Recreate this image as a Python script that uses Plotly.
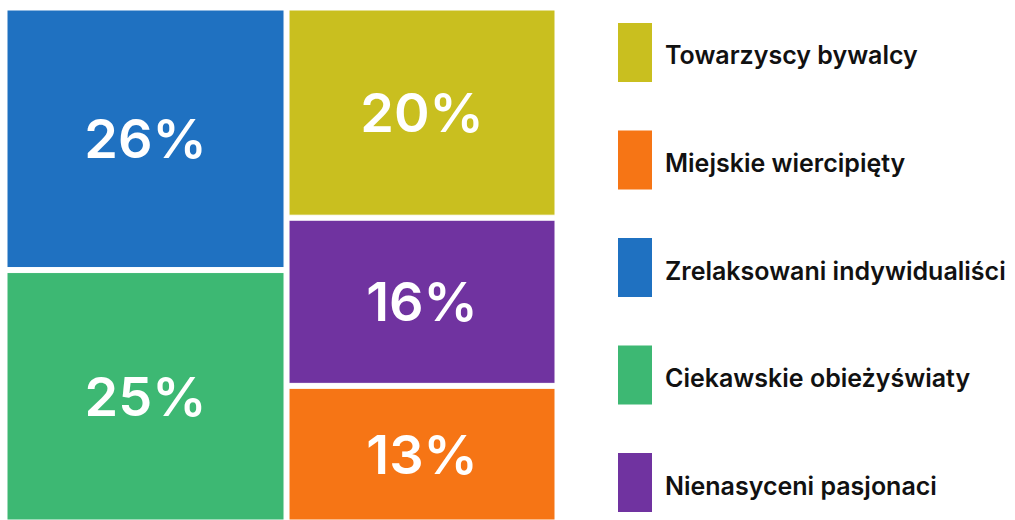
import plotly.graph_objects as go

# Segment shares (%) and their colours
segments = ["Zrelaksowani indywidualiści", "Ciekawskie obieżyświaty", "Towarzyscy bywalcy",
            "Nienasyceni pasjonaci", "Miejskie wiercipięty"]
shares = [26, 25, 20, 16, 13]
colors = ["#1F71C1", "#3DB873", "#C9BF1F", "#7033A0", "#F67515"]

# Order of the entries in the legend column
legend_order = ["Towarzyscy bywalcy", "Miejskie wiercipięty", "Zrelaksowani indywidualiści",
                "Ciekawskie obieżyświaty", "Nienasyceni pasjonaci"]

W, H = 1015, 520

fig = go.Figure(go.Treemap(
    labels=segments,
    parents=[""] * len(segments),
    values=shares,
    marker=dict(colors=colors, line=dict(color="white", width=1),
                pad=dict(t=0, l=0, r=0, b=0)),
    texttemplate="%{value}%",
    textposition="middle center",
    textfont=dict(family="Inter", size=54, color="white", weight=600),
    tiling=dict(pad=5),
    pathbar=dict(visible=False),
    sort=True,
    hovertemplate="%{label}: %{value}%<extra></extra>",
    domain=dict(x=[7 / W, 555 / W], y=[0, 1 - 10 / H]),
))

# Legend: a tall colour swatch with its label beside it
col_of = dict(zip(segments, colors))
top0, step, sw_w, sw_h = 23, 107.5, 34, 59
for i, name in enumerate(legend_order):
    y0 = top0 + i * step
    fig.add_shape(type="rect", xref="paper", yref="paper",
                  x0=618 / W, x1=(618 + sw_w) / W,
                  y0=1 - (y0 + sw_h) / H, y1=1 - y0 / H,
                  fillcolor=col_of[name], line=dict(width=0))
    fig.add_annotation(x=663 / W, y=1 - (y0 + sw_h / 2 + 3) / H, xref="paper", yref="paper",
                       text=name, showarrow=False, xanchor="left", yanchor="middle",
                       font=dict(family="Inter", size=25, color="#111111", weight=600))

fig.update_layout(
    width=W, height=H,
    margin=dict(l=0, r=0, t=0, b=0),
    paper_bgcolor="white",
    plot_bgcolor="white",
)

fig.write_html("out.html")
